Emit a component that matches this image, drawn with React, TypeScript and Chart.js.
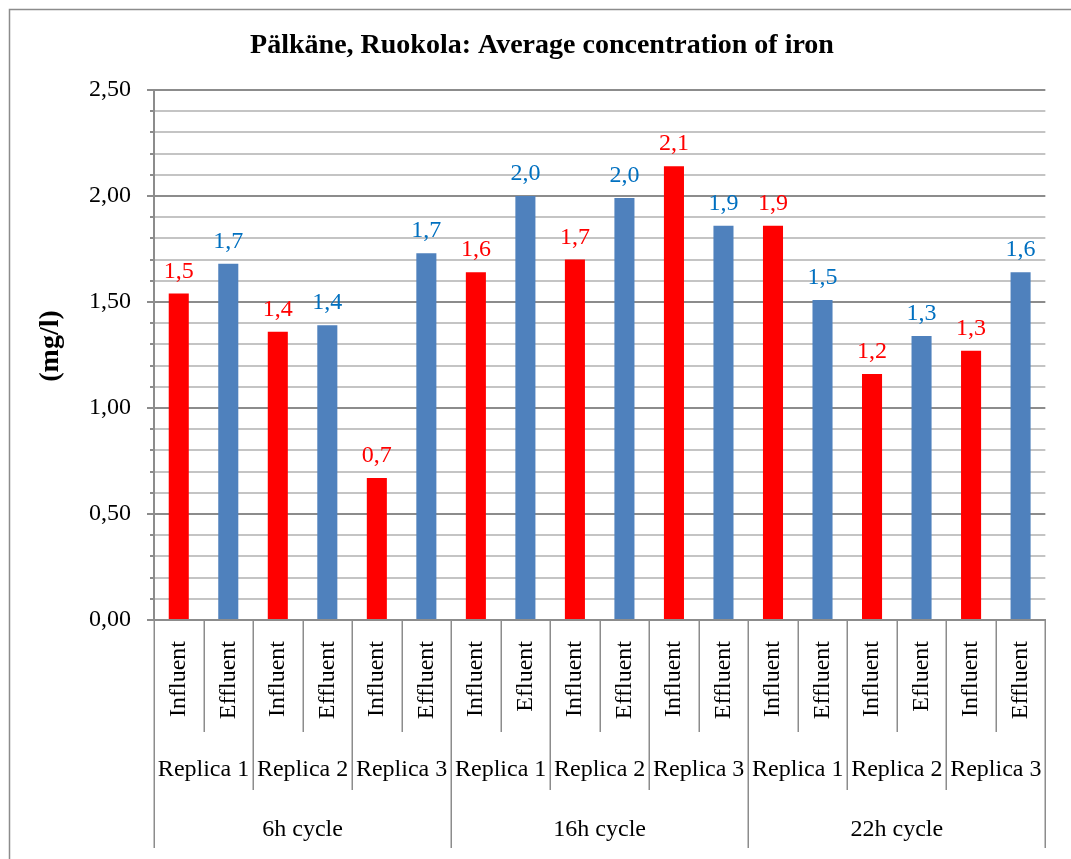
import React, { useEffect, useRef } from 'react';
import { Chart, registerables } from 'chart.js';

Chart.register(...registerables);

const TITLE = 'Pälkäne, Ruokola: Average concentration of iron';
const Y_TITLE = '(mg/l)';

const innerLabels = [
  'Influent', 'Effluent', 'Influent', 'Effluent', 'Influent', 'Effluent',
  'Influent', 'Efluent', 'Influent', 'Effluent', 'Influent', 'Effluent',
  'Influent', 'Effluent', 'Influent', 'Efluent', 'Influent', 'Effluent',
];
const replicaLabels = ['Replica 1', 'Replica 2', 'Replica 3'];
const cycleLabels = ['6h cycle', '16h cycle', '22h cycle'];

const influentValues = [1.54, 1.36, 0.67, 1.64, 1.7, 2.14, 1.86, 1.16, 1.27];
const effluentValues = [1.68, 1.39, 1.73, 2.0, 1.99, 1.86, 1.51, 1.34, 1.64];

const Y_MIN = 0;
const Y_MAX = 2.5;
const Y_STEP = 0.1;
const Y_MAJOR = 0.5;

const INFLUENT_COLOR = '#FF0000';
const EFFLUENT_COLOR = '#4F81BD';
const INFLUENT_LABEL_COLOR = '#FF0000';
const EFFLUENT_LABEL_COLOR = '#0070C0';
const AXIS_COLOR = '#8C8C8C';
const MINOR_COLOR = '#C4C4C4';
const FONT = '"Liberation Serif", "Times New Roman", serif';

const values: number[] = [];
const colors: string[] = [];
influentValues.forEach((v, i) => {
  values.push(v, effluentValues[i]);
  colors.push(INFLUENT_COLOR, EFFLUENT_COLOR);
});

const isMajor = (v: number) => Math.abs(v / Y_MAJOR - Math.round(v / Y_MAJOR)) < 1e-6;
const fmt = (v: number, d: number) => v.toFixed(d).replace('.', ',');

const decorPlugin = {
  id: 'decor',
  afterDraw(chart: any) {
    const ctx = chart.ctx as CanvasRenderingContext2D;
    const xs = chart.scales.x;
    const ys = chart.scales.y;
    const area = chart.chartArea;
    ctx.save();

    // outer chart border (top & left visible)
    ctx.strokeStyle = AXIS_COLOR;
    ctx.lineWidth = 1.5;
    ctx.beginPath();
    ctx.moveTo(9.5, 900);
    ctx.lineTo(9.5, 9.5);
    ctx.lineTo(1100, 9.5);
    ctx.stroke();

    // title
    ctx.fillStyle = '#000';
    ctx.font = `bold 28px ${FONT}`;
    ctx.textAlign = 'center';
    ctx.textBaseline = 'alphabetic';
    ctx.fillText(TITLE, 542, 53);

    // y axis title
    ctx.save();
    ctx.translate(58, 346);
    ctx.rotate(-Math.PI / 2);
    ctx.font = `bold 28px ${FONT}`;
    ctx.fillText(Y_TITLE, 0, 0);
    ctx.restore();

    // y tick marks
    ctx.strokeStyle = AXIS_COLOR;
    ctx.lineWidth = 2;
    ys.ticks.forEach((t: any, i: number) => {
      const py = Math.round(ys.getPixelForTick(i));
      const len = isMajor(t.value) ? 7 : 4;
      ctx.beginPath();
      ctx.moveTo(area.left - len, py);
      ctx.lineTo(area.left, py);
      ctx.stroke();
    });

    // data labels
    const meta = chart.getDatasetMeta(0);
    ctx.font = `24px ${FONT}`;
    ctx.textAlign = 'center';
    ctx.textBaseline = 'alphabetic';
    meta.data.forEach((bar: any, i: number) => {
      ctx.fillStyle = i % 2 === 0 ? INFLUENT_LABEL_COLOR : EFFLUENT_LABEL_COLOR;
      ctx.fillText(fmt(values[i], 1), bar.x, bar.y - 16);
    });

    // multi-level category separators
    const n = innerLabels.length;
    const boundary = (i: number) => {
      if (i === 0) return area.left;
      if (i === n) return area.right;
      return (xs.getPixelForValue(i - 1) + xs.getPixelForValue(i)) / 2;
    };
    ctx.strokeStyle = AXIS_COLOR;
    ctx.lineWidth = 1.5;
    for (let i = 0; i <= n; i++) {
      const bx = Math.round(boundary(i)) + 0.25;
      const end = i % 6 === 0 ? 848 : i % 2 === 0 ? 790 : 732;
      ctx.beginPath();
      ctx.moveTo(bx, area.bottom);
      ctx.lineTo(bx, end);
      ctx.stroke();
    }

    // replica labels
    ctx.fillStyle = '#000';
    ctx.font = `24px ${FONT}`;
    for (let r = 0; r < n / 2; r++) {
      const cx = (boundary(2 * r) + boundary(2 * r + 2)) / 2;
      ctx.fillText(replicaLabels[r % replicaLabels.length], cx, 776);
    }
    // cycle labels
    for (let c = 0; c < cycleLabels.length; c++) {
      const cx = (boundary(6 * c) + boundary(6 * c + 6)) / 2;
      ctx.fillText(cycleLabels[c], cx, 836);
    }
    ctx.restore();
  },
};

export default function App() {
  const ref = useRef<HTMLCanvasElement>(null);
  useEffect(() => {
    if (!ref.current) return;
    const chart = new Chart(ref.current, {
      type: 'bar',
      data: {
        labels: innerLabels,
        datasets: [
          {
            data: values,
            backgroundColor: colors,
            borderWidth: 0,
            barPercentage: 0.405,
            categoryPercentage: 1,
          },
        ],
      },
      options: {
        responsive: false,
        animation: false,
        devicePixelRatio: 1,
        layout: { padding: { top: 90, right: 22, left: 0, bottom: 0 } },
        plugins: {
          legend: { display: false },
          tooltip: { enabled: false },
          title: { display: false },
        },
        scales: {
          x: {
            grid: { display: false, drawTicks: false },
            border: { display: true, color: AXIS_COLOR, width: 2 },
            ticks: {
              autoSkip: false,
              minRotation: 90,
              maxRotation: 90,
              padding: 21,
              color: '#000',
              font: { family: FONT, size: 24 },
            },
            afterFit: (scale: any) => {
              scale.height = 239;
            },
          },
          y: {
            min: Y_MIN,
            max: Y_MAX,
            grid: {
              drawTicks: false,
              lineWidth: 2,
              color: (c: any) => (c.tick && isMajor(c.tick.value) ? AXIS_COLOR : MINOR_COLOR),
            },
            border: { display: true, color: AXIS_COLOR, width: 2 },
            ticks: {
              stepSize: Y_STEP,
              autoSkip: false,
              padding: 23,
              color: '#000',
              font: { family: FONT, size: 24 },
              callback: (v: any) => (isMajor(Number(v)) ? fmt(Number(v), 2) : ''),
            },
            afterFit: (scale: any) => {
              scale.width = 154;
            },
          },
        },
      },
      plugins: [decorPlugin],
    } as any);
    return () => chart.destroy();
  }, []);

  return (
    <div style={{ position: 'fixed', left: 0, top: 0, width: 1071, height: 859, background: '#fff' }}>
      <canvas ref={ref} width={1071} height={859} style={{ display: 'block', width: 1071, height: 859 }} />
    </div>
  );
}
